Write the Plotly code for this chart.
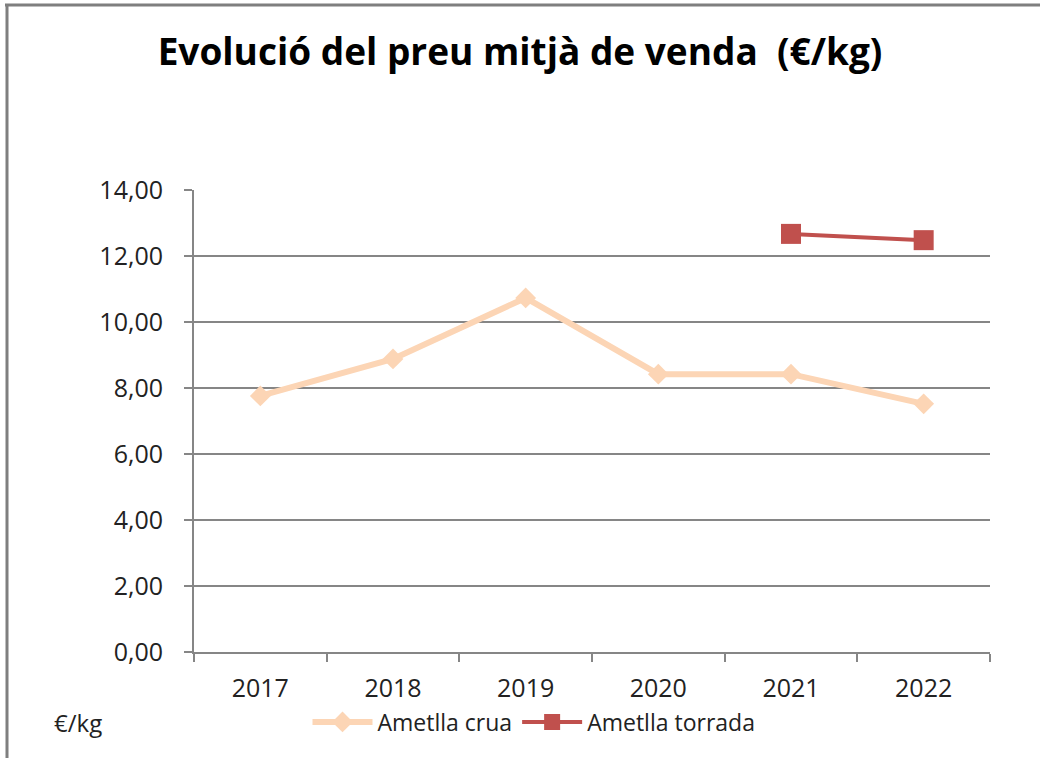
import plotly.graph_objects as go

years = ["2017", "2018", "2019", "2020", "2021", "2022"]
crua = [7.76, 8.88, 10.73, 8.42, 8.42, 7.52]
torrada = [None, None, None, None, 12.67, 12.48]
ytick_vals = [0, 2, 4, 6, 8, 10, 12, 14]
ytick_text = ["0,00", "2,00", "4,00", "6,00", "8,00", "10,00", "12,00", "14,00"]

W, H = 1040, 758
L, R, T, B = 194, 50, 190, 106
pw, ph = W - L - R, H - T - B

def px(x):
    return (x - L) / pw

def py(y):
    return (H - B - y) / ph

fig = go.Figure()
fig.add_trace(go.Scatter(
    x=years, y=crua, name="Ametlla crua", mode="lines+markers",
    line=dict(color="#FCD5B5", width=6),
    marker=dict(symbol="diamond", size=16, color="#FCD5B5"),
))
fig.add_trace(go.Scatter(
    x=years, y=torrada, name="Ametlla torrada", mode="lines+markers",
    line=dict(color="#C0504D", width=4),
    marker=dict(symbol="square", size=20, color="#C0504D"),
))

fig.update_layout(
    width=W, height=H,
    margin=dict(l=L, r=R, t=T, b=B, autoexpand=False),
    paper_bgcolor="white", plot_bgcolor="white",
    font=dict(family="Open Sans", color="#222222"),
    title=dict(text="<b>Evolució del preu mitjà de venda  (€/kg)</b>",
               x=0.5, xanchor="center", y=1 - 52 / H, yanchor="middle",
               font=dict(size=37, color="black", family="Open Sans")),
    showlegend=True,
    legend=dict(orientation="h", x=px(534), xanchor="center",
                y=py(722), yanchor="middle",
                font=dict(size=23, color="#222222"),
                itemwidth=60, bgcolor="rgba(0,0,0,0)"),
    xaxis=dict(type="category", showgrid=False, showline=True,
               linecolor="#868686", linewidth=2,
               ticks="outside", tickson="boundaries", ticklen=8,
               tickcolor="#868686", tickwidth=2, ticklabelstandoff=13,
               tickfont=dict(size=25, color="#222222"),
               range=[-0.5, 5.5], fixedrange=True),
    yaxis=dict(range=[0, 14], tickvals=ytick_vals, ticktext=ytick_text,
               showgrid=True, gridcolor="#868686", gridwidth=2,
               showline=True, linecolor="#868686", linewidth=2,
               ticks="outside", ticklen=8, tickcolor="#868686", tickwidth=2,
               ticklabelstandoff=16,
               tickfont=dict(size=25, color="#222222"), zeroline=False),
    annotations=[dict(text="€/kg", x=px(52), y=py(722), xref="paper", yref="paper",
                      xanchor="left", yanchor="middle", showarrow=False,
                      font=dict(size=24, color="#222222"))],
    shapes=[
        dict(type="line", xref="paper", yref="paper",
             x0=px(5), x1=px(1045), y0=py(5), y1=py(5),
             line=dict(color="#7F7F7F", width=3), layer="above"),
        dict(type="line", xref="paper", yref="paper",
             x0=px(7), x1=px(7), y0=py(4), y1=py(770),
             line=dict(color="#7F7F7F", width=3), layer="above"),
    ],
)

fig.write_html("out.html", config={"displayModeBar": False},
               post_script="document.body.style.margin='0';document.body.style.padding='0';")
